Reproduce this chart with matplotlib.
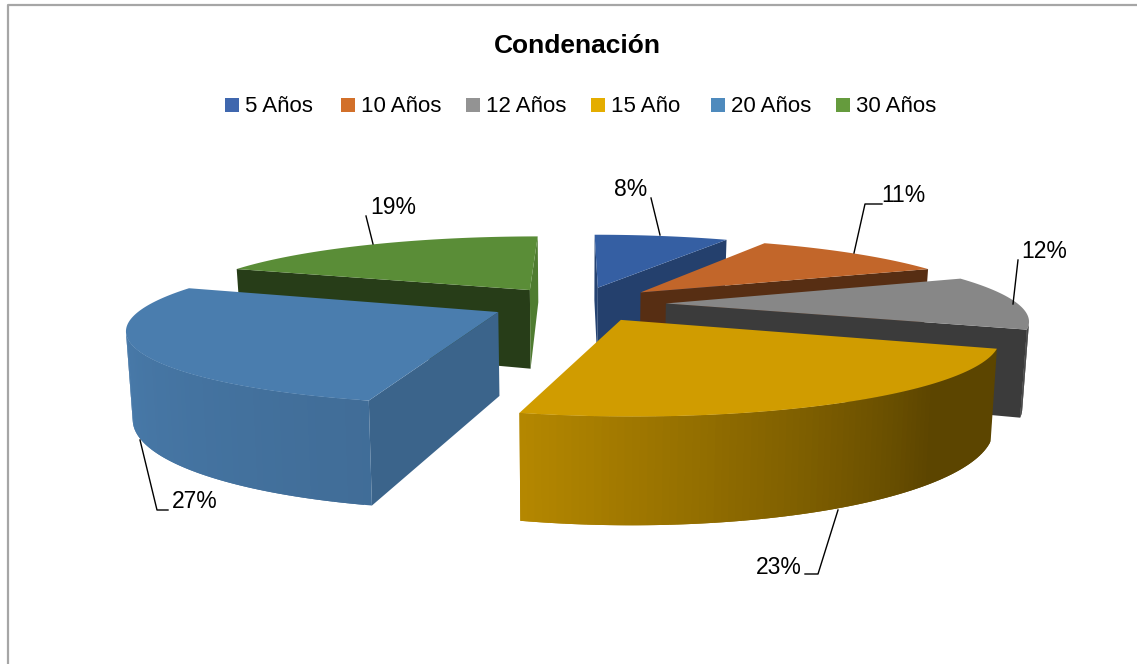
import numpy as np
import matplotlib
matplotlib.use('Agg')
import matplotlib.pyplot as plt
from matplotlib.collections import PolyCollection
from matplotlib.patches import Polygon, Rectangle
from matplotlib.colors import to_rgb

categories = ['5 Años', '10 Años', '12 Años', '15 Año', '20 Años', '30 Años']
values = [7.6, 11.1, 12.0, 23.2, 26.8, 19.3]
title = 'Condenación'

top_colors = ['#355fa3', '#c2662a', '#878787', '#d09c00', '#4a7dae', '#5a8d37']
legend_colors = ['#3f67ae', '#d2702a', '#939393', '#e4ad00', '#4e8abd', '#659b3d']
start_shade = [0.70, 0.45, 0.44, 0.44, 0.80, 0.43]
end_shade = [0.67, 0.45, 0.44, 0.44, 0.80, 0.88]
draw_order = [5, 0, 1, 2, 4, 3]

# perspective of the pie plane, in pixels
CX, HORIZON, DEPTH = 578, -40, 340
SCALE, PERSP = 348, 0.2
V_SHIFT, EXPLODE = 0.055, 0.25
WALL, TAPER = 81, 0.985

FONT = ['Liberation Sans']


def project(u, v):
    w = 1 - PERSP * (v + V_SHIFT)
    return np.column_stack([CX + SCALE * u / w, HORIZON + DEPTH / w])


def drop(pts):
    w = DEPTH / (pts[:, 1] - HORIZON)
    return np.column_stack([CX + (pts[:, 0] - CX) * TAPER, pts[:, 1] + WALL / w])


def shade(color, f):
    return tuple(np.array(to_rgb(color)) * f)


def rim_shade(theta):
    return np.interp(theta, [100, 135, 194, 270, 360], [0.44, 0.44, 0.87, 1.0, 1.0])


def visible(a, b, c, d):
    q = np.array([a, b, c, d])
    x, y = q[:, 0], q[:, 1]
    return np.sum(x * np.roll(y, -1) - np.roll(x, -1) * y) < 0


def draw_slice(ax, t0, t1, i):
    mid = np.radians((t0 + t1) / 2)
    off_u, off_v = EXPLODE * np.sin(mid), -EXPLODE * np.cos(mid)
    th = np.linspace(t0, t1, 90)
    rad = np.radians(th)
    rim = project(off_u + np.sin(rad), off_v - np.cos(rad))
    apex = project(np.array([off_u]), np.array([off_v]))
    rim_b, apex_b = drop(rim), drop(apex)
    col = top_colors[i]

    # radial walls
    a, b = apex[0], rim[0]
    if visible(a, b, rim_b[0], apex_b[0]):
        ax.add_patch(Polygon([a, b, rim_b[0], apex_b[0]], fc=shade(col, start_shade[i]), ec='none'))
    a, b = rim[-1], apex[0]
    if visible(a, b, apex_b[0], rim_b[-1]):
        ax.add_patch(Polygon([a, b, apex_b[0], rim_b[-1]], fc=shade(col, end_shade[i]), ec='none'))

    # rim strips overlap the next one so no seams show in the gradient
    quads, cols = [], []
    for k in range(len(th) - 1):
        if visible(rim[k], rim[k + 1], rim_b[k + 1], rim_b[k]):
            e = min(k + 2, len(th) - 1)
            quads.append([rim[k], rim[e], rim_b[e], rim_b[k]])
            cols.append(shade(col, rim_shade((th[k] + th[k + 1]) / 2)))
    if quads:
        ax.add_collection(PolyCollection(quads, facecolors=cols, edgecolors='none', linewidths=0))

    ax.add_patch(Polygon(np.vstack([apex, rim]), fc=col, ec='none'))


fig = plt.figure(figsize=(11.37, 6.64), dpi=100)
ax = fig.add_axes([0, 0, 1, 1])
ax.set_xlim(0, 1137)
ax.set_ylim(664, 0)
ax.axis('off')

# chart frame
ax.plot([8, 8, 1137], [664, 5, 5], color='#a6a6a6', lw=1.6)

edges = np.concatenate([[0], np.cumsum(values)]) / np.sum(values) * 360
for i in draw_order:
    draw_slice(ax, edges[i], edges[i + 1], i)

ax.text(577, 46, title, family=FONT, fontsize=19, fontweight='bold', ha='center', va='center', color='black')

legend_x = [225, 341, 466, 591, 711, 836]
for x, name, c in zip(legend_x, categories, legend_colors):
    ax.add_patch(Rectangle((x, 98), 14, 14, fc=c, ec='none'))
    ax.text(x + 20, 106, name, family=FONT, fontsize=16, ha='left', va='center', color='black')

# data labels with leader lines
label_pos = [(631, 190), (903, 196), (1044, 252), (779, 567), (195, 501), (393, 207)]
leaders = [
    [(651, 198), (660, 235)],
    [(882, 204), (865, 204), (854, 253)],
    [(1018, 260), (1013, 304)],
    [(805, 574), (818, 574), (838, 510)],
    [(140, 440), (157, 510), (168, 510)],
    [(366, 216), (373, 244)],
]
for v, pos, line in zip(values, label_pos, leaders):
    ax.text(pos[0], pos[1], f'{v:.0f}%', family=FONT, fontsize=16.5, ha='center', va='center', color='black')
    xs, ys = zip(*line)
    ax.plot(xs, ys, color='black', lw=1.0, zorder=5)

fig.savefig('out.png', dpi=100)
